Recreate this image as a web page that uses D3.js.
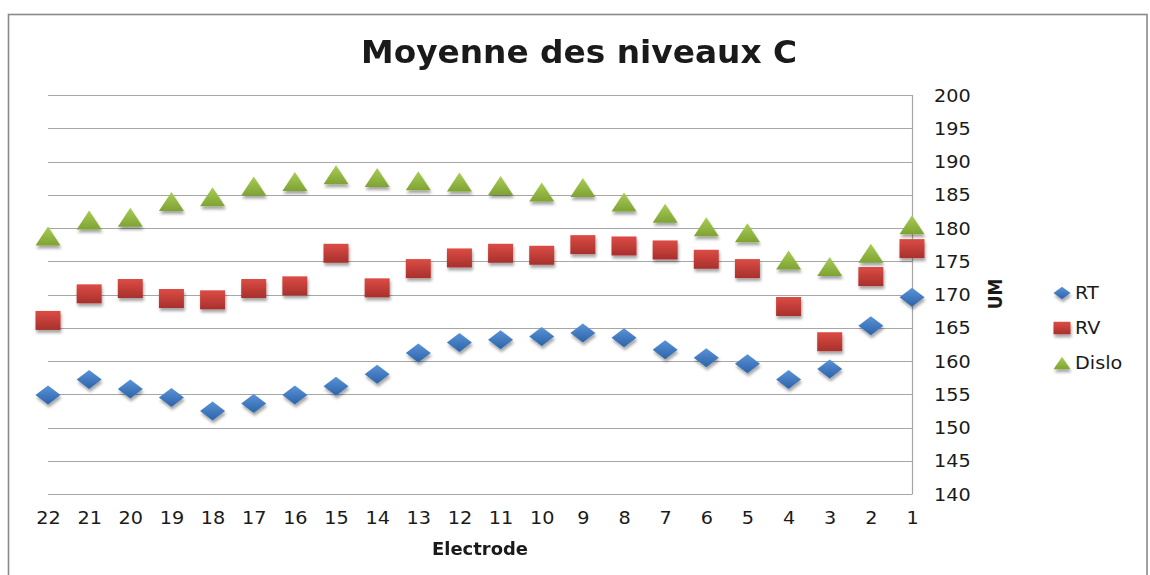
<!DOCTYPE html>
<html>
<head>
<meta charset="utf-8">
<script src="https://cdn.jsdelivr.net/npm/d3@7"></script>
<style>
  html, body { margin: 0; padding: 0; background: #fff; }
  svg { display: block; }
  text { font-family: "DejaVu Sans", sans-serif; fill: #1a1a1a; }
</style>
</head>
<body>
<svg id="chart" width="1150" height="575"></svg>
<script>
// Electrode numbers, shown from 22 down to 1
const electrodes = [22, 21, 20, 19, 18, 17, 16, 15, 14, 13, 12, 11, 10, 9, 8, 7, 6, 5, 4, 3, 2, 1];

// Mean C levels (UM) per electrode, same order as electrodes
const rtValues = [154.9, 157.2, 155.8, 154.5, 152.5, 153.6, 154.9, 156.2, 158.0, 161.2, 162.8,
                  163.2, 163.7, 164.2, 163.5, 161.7, 160.5, 159.6, 157.2, 158.8, 165.3, 169.6];
const rvValues = [166.1, 170.1, 170.9, 169.4, 169.2, 170.9, 171.3, 176.2, 171.0, 173.9, 175.5,
                  176.2, 175.9, 177.5, 177.3, 176.7, 175.3, 173.9, 168.2, 162.9, 172.7, 176.9];
const disloValues = [178.8, 181.2, 181.6, 184.0, 184.7, 186.3, 187.0, 188.0, 187.6, 187.1, 186.9,
                     186.4, 185.4, 186.1, 183.9, 182.2, 180.2, 179.3, 175.2, 174.2, 176.2, 180.5];

const seriesNames = ["RT", "RV", "Dislo"];
const yTicks = [140, 145, 150, 155, 160, 165, 170, 175, 180, 185, 190, 195, 200];

const titleText = "Moyenne des niveaux C";
const xTitle = "Electrode";
const yTitle = "UM";

const svg = d3.select("#chart");
const plot = { left: 48, right: 912, top: 95, bottom: 494 };
const stretch = 1.13; // horizontal widening of all text

// outer chart frame
svg.append("rect")
  .attr("x", 8.5).attr("y", 14.5)
  .attr("width", 1138.5).attr("height", 580)
  .attr("fill", "#fff")
  .attr("stroke", "#8a8a8a").attr("stroke-width", 1.6);

const x = d3.scalePoint().domain(electrodes).range([plot.left, plot.right]);
const y = d3.scaleLinear().domain([140, 200]).range([plot.bottom, plot.top]);

// defs: bevel gradients and soft drop shadow
const defs = svg.append("defs");
const gradSpecs = [
  { id: "g-rt", top: "#5a93d8", bottom: "#2c63a8" },
  { id: "g-rv", top: "#dc4c45", bottom: "#a8302c" },
  { id: "g-dislo", top: "#a9cc55", bottom: "#7ea333" }
];
gradSpecs.forEach(g => {
  const lg = defs.append("linearGradient").attr("id", g.id)
    .attr("x1", 0).attr("y1", 0).attr("x2", 0).attr("y2", 1);
  lg.append("stop").attr("offset", "0%").attr("stop-color", g.top);
  lg.append("stop").attr("offset", "100%").attr("stop-color", g.bottom);
});
const f = defs.append("filter").attr("id", "shadow")
  .attr("x", "-40%").attr("y", "-40%").attr("width", "180%").attr("height", "200%");
f.append("feDropShadow").attr("dx", 1).attr("dy", 3)
  .attr("stdDeviation", 1.6).attr("flood-color", "#000").attr("flood-opacity", 0.35);

// marker shapes, w x h centred on origin
const shapes = {
  diamond: (w, h) => `M0,${-h/2}L${w/2},0L0,${h/2}L${-w/2},0Z`,
  square: (w, h) => `M${-w/2},${-h/2}H${w/2}V${h/2}H${-w/2}Z`,
  triangle: (w, h) => `M0,${-h/2}L${w/2},${h/2}H${-w/2}Z`
};

const series = [
  { name: seriesNames[0], values: rtValues, shape: "diamond", fill: "url(#g-rt)", w: 25, h: 19 },
  { name: seriesNames[1], values: rvValues, shape: "square", fill: "url(#g-rv)", w: 25, h: 19 },
  { name: seriesNames[2], values: disloValues, shape: "triangle", fill: "url(#g-dislo)", w: 25, h: 19 }
];

// horizontal gridlines
svg.append("g").selectAll("line")
  .data(yTicks)
  .join("line")
  .attr("x1", plot.left).attr("x2", plot.right)
  .attr("y1", d => Math.round(y(d)) + 0.5).attr("y2", d => Math.round(y(d)) + 0.5)
  .attr("stroke", "#a6a6a6").attr("stroke-width", 1.2);

// right value axis line
svg.append("line")
  .attr("x1", plot.right + 0.5).attr("x2", plot.right + 0.5)
  .attr("y1", plot.top).attr("y2", plot.bottom + 0.5)
  .attr("stroke", "#a6a6a6").attr("stroke-width", 1.2);

function widen(sel) {
  sel.each(function () {
    const len = this.getComputedTextLength();
    d3.select(this).attr("textLength", len * stretch).attr("lengthAdjust", "spacingAndGlyphs");
  });
}

// value axis (right side)
const yAxis = svg.append("g")
  .attr("transform", `translate(${plot.right},0)`)
  .call(d3.axisRight(y).tickValues(yTicks).tickSize(0).tickPadding(22).tickFormat(d3.format("d")));
yAxis.select(".domain").remove();
yAxis.selectAll("text")
  .attr("font-family", "DejaVu Sans").attr("font-size", 17).attr("fill", "#1a1a1a")
  .attr("dy", "0.36em")
  .call(widen);

// category axis
const xAxis = svg.append("g")
  .attr("transform", `translate(0,${plot.bottom})`)
  .call(d3.axisBottom(x).tickSize(0).tickPadding(18));
xAxis.select(".domain").remove();
xAxis.selectAll("text")
  .attr("font-family", "DejaVu Sans").attr("font-size", 17).attr("fill", "#1a1a1a")
  .attr("dy", "0.71em")
  .call(widen);

// markers
series.forEach(s => {
  svg.append("g").attr("filter", "url(#shadow)")
    .selectAll("path")
    .data(s.values)
    .join("path")
    .attr("transform", (d, i) => `translate(${x(electrodes[i])},${y(d)})`)
    .attr("d", shapes[s.shape](s.w, s.h))
    .attr("fill", s.fill);
});

// title
svg.append("text")
  .attr("x", 579).attr("y", 63)
  .attr("text-anchor", "middle")
  .attr("font-size", 32).attr("font-weight", "bold").attr("fill", "#000")
  .attr("textLength", 436).attr("lengthAdjust", "spacingAndGlyphs")
  .text(titleText);

// category axis title
svg.append("text")
  .attr("x", 480).attr("y", 555)
  .attr("text-anchor", "middle")
  .attr("font-size", 17).attr("font-weight", "bold").attr("fill", "#000")
  .attr("textLength", 96).attr("lengthAdjust", "spacingAndGlyphs")
  .text(xTitle);

// value axis title, rotated
svg.append("text")
  .attr("transform", `translate(1002,294) scale(${stretch},1) rotate(-90)`)
  .attr("text-anchor", "middle")
  .attr("font-size", 17).attr("font-weight", "bold").attr("fill", "#000")
  .text(yTitle);

// legend
const legendRows = [293, 328, 363];
const legend = svg.append("g");
series.forEach((s, i) => {
  legend.append("path")
    .attr("transform", `translate(1062,${legendRows[i]})`)
    .attr("d", shapes[s.shape](17, 12.5))
    .attr("fill", s.fill)
    .attr("filter", "url(#shadow)");
  legend.append("text")
    .attr("x", 1075).attr("y", legendRows[i])
    .attr("dy", "0.36em")
    .attr("font-size", 17).attr("fill", "#1a1a1a")
    .text(s.name)
    .call(widen);
});
</script>
</body>
</html>
